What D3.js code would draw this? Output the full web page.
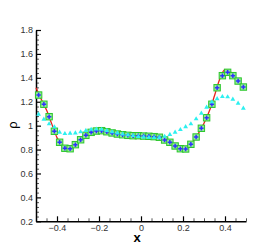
<!DOCTYPE html>
<html>
<head>
<meta charset="utf-8">
<script src="https://cdn.jsdelivr.net/npm/d3@7"></script>
<style>
  body { margin: 0; background: #fff; }
  svg { display: block; }
  .tick text { font-family: Arial, "Liberation Sans", sans-serif; font-size: 9px; fill: #333; }
</style>
</head>
<body>
<svg id="chart"></svg>
<script>
// cell-centre positions of the markers (40 cells on [-0.5, 0.5])
const cellX = d3.range(40).map(i => -0.4875 + 0.025 * i);

// green squares / blue crosses (same scheme, points overlap)
const rhoSquares = [
  1.256, 1.179, 1.075, 0.953, 0.861, 0.811, 0.807, 0.841, 0.882, 0.919,
  0.944, 0.955, 0.958, 0.949, 0.939, 0.930, 0.924, 0.919, 0.916, 0.916,
  0.913, 0.911, 0.908, 0.903, 0.880, 0.861, 0.830, 0.807, 0.805, 0.844,
  0.905, 0.978, 1.066, 1.179, 1.317, 1.418, 1.446, 1.418, 1.373, 1.323
];
const rhoCrosses = rhoSquares;

// cyan triangles
const rhoTriangles = [
  1.095, 1.053, 1.014, 0.989, 0.944, 0.933, 0.936, 0.938, 0.947, 0.959,
  0.968, 0.970, 0.968, 0.959, 0.947, 0.938, 0.930, 0.922, 0.916, 0.909,
  0.905, 0.901, 0.899, 0.900, 0.910, 0.925, 0.944, 0.966, 0.990, 1.014,
  1.056, 1.103, 1.153, 1.198, 1.225, 1.242, 1.240, 1.220, 1.187, 1.145
];

// red reference line, read at cell faces
const lineX = d3.range(41).map(j => -0.5 + 0.025 * j);
const rhoLine = [
  1.317, 1.220, 1.130, 1.015, 0.900, 0.828, 0.800, 0.818, 0.862, 0.902,
  0.933, 0.951, 0.958, 0.955, 0.944, 0.934, 0.927, 0.921, 0.917, 0.916,
  0.915, 0.912, 0.910, 0.906, 0.893, 0.870, 0.845, 0.815, 0.800, 0.822,
  0.873, 0.940, 1.020, 1.120, 1.250, 1.390, 1.468, 1.452, 1.395, 1.350,
  1.310
];

const xMajor = [-0.4, -0.2, 0, 0.2, 0.4];
const yMajor = [0.2, 0.4, 0.6, 0.8, 1, 1.2, 1.4, 1.6, 1.8];

const width = 280, height = 249;
const svg = d3.select("#chart").attr("width", width).attr("height", height);

const x = d3.scaleLinear().domain([-0.5, 0.5]).range([36, 246]);
const y = d3.scaleLinear().domain([0.2, 1.8]).range([221.3, 30]);

// minor ticks
const xMinor = d3.range(-0.5, 0.5001, 0.05).filter(v => !xMajor.some(m => Math.abs(m - v) < 1e-6));
const yMinor = d3.range(0.2, 1.8001, 0.04).filter(v => !yMajor.some(m => Math.abs(m - v) < 1e-6));

svg.append("g")
  .attr("transform", `translate(0,${y.range()[0]})`)
  .call(d3.axisBottom(x).tickValues(xMinor).tickFormat("").tickSize(-3).tickSizeOuter(0))
  .call(g => g.select(".domain").remove())
  .call(g => g.selectAll("line").attr("stroke", "#555"));

svg.append("g")
  .attr("transform", `translate(${x.range()[0]},0)`)
  .call(d3.axisLeft(y).tickValues(yMinor).tickFormat("").tickSize(-3).tickSizeOuter(0))
  .call(g => g.select(".domain").remove())
  .call(g => g.selectAll("line").attr("stroke", "#555"));

// major axes
svg.append("g")
  .attr("transform", `translate(0,${y.range()[0]})`)
  .call(d3.axisBottom(x).tickValues(xMajor).tickFormat(d3.format("")).tickSize(-5).tickSizeOuter(0).tickPadding(3))
  .call(g => g.select(".domain").attr("stroke-width", 1.5))
  .call(g => g.selectAll("line").attr("stroke-width", 1.2));

svg.append("g")
  .attr("transform", `translate(${x.range()[0]},0)`)
  .call(d3.axisLeft(y).tickValues(yMajor).tickFormat(d3.format("")).tickSize(-5).tickSizeOuter(0).tickPadding(3))
  .call(g => g.select(".domain").attr("stroke-width", 1.5))
  .call(g => g.selectAll("line").attr("stroke-width", 1.2));

// axis titles
svg.append("text")
  .attr("x", 137).attr("y", 242)
  .attr("text-anchor", "middle")
  .style("font-family", "Arial, 'Liberation Sans', sans-serif")
  .style("font-size", "13px").style("font-weight", "bold")
  .text("x");

svg.append("text")
  .attr("transform", "translate(17,125) rotate(-90)")
  .attr("text-anchor", "middle")
  .style("font-family", "Arial, 'Liberation Sans', sans-serif")
  .style("font-size", "13px")
  .text("ρ");

// red line
const line = d3.line().x(d => x(d[0])).y(d => y(d[1])).curve(d3.curveMonotoneX);
svg.append("path")
  .datum(lineX.map((v, i) => [v, rhoLine[i]]))
  .attr("d", line)
  .attr("fill", "none")
  .attr("stroke", "#e8201c")
  .attr("stroke-width", 1.3);

// green squares
svg.append("g").selectAll("rect")
  .data(cellX.map((v, i) => [v, rhoSquares[i]]))
  .join("rect")
  .attr("x", d => x(d[0]) - 3.2)
  .attr("y", d => y(d[1]) - 3.2)
  .attr("width", 6.4).attr("height", 6.4)
  .attr("fill", "#92ec92")
  .attr("stroke", "#2cc62c")
  .attr("stroke-width", 1);

// blue crosses
svg.append("g").selectAll("path")
  .data(cellX.map((v, i) => [v, rhoCrosses[i]]))
  .join("path")
  .attr("transform", d => `translate(${x(d[0])},${y(d[1])})`)
  .attr("d", d3.symbol(d3.symbolCross, 11))
  .attr("fill", "#3030ff");

// cyan triangles
svg.append("g").selectAll("path")
  .data(cellX.map((v, i) => [v, rhoTriangles[i]]))
  .join("path")
  .attr("transform", d => `translate(${x(d[0])},${y(d[1])})`)
  .attr("d", d3.symbol(d3.symbolTriangle, 10))
  .attr("fill", "#2cf0f0");
</script>
</body>
</html>
